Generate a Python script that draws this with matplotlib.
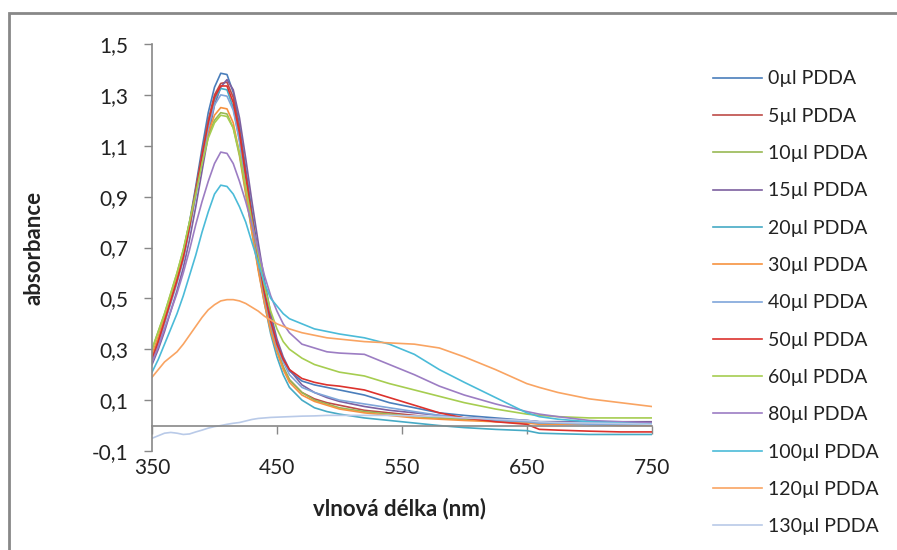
import matplotlib
matplotlib.use("Agg")
import matplotlib.pyplot as plt
from matplotlib.patches import Rectangle
from matplotlib.ticker import FuncFormatter

wavelength = [350, 355, 360, 365, 370, 375, 380, 385, 390, 395, 400, 405, 410, 415, 420,
              425, 430, 435, 440, 445, 450, 455, 460, 470, 480, 490, 500, 520, 540, 560,
              580, 600, 625, 650, 660, 675, 700, 725, 750]

labels = ["0µl PDDA", "5µl PDDA", "10µl PDDA", "15µl PDDA", "20µl PDDA", "30µl PDDA",
          "40µl PDDA", "50µl PDDA", "60µl PDDA", "80µl PDDA", "100µl PDDA", "120µl PDDA",
          "130µl PDDA"]

colors = ["#4A7EBB", "#BE4B48", "#98B954", "#7D60A0", "#46AAC5", "#F69240",
          "#7FA6DA", "#DC322D", "#A6CD50", "#9C7DC3", "#4BBBD8", "#F9A462", "#B9CAE8"]

s0 = [0.26, 0.33, 0.41, 0.49, 0.58, 0.68, 0.80, 0.94, 1.09, 1.23, 1.33, 1.385, 1.38, 1.31, 1.18,
      1.01, 0.84, 0.68, 0.53, 0.42, 0.33, 0.26, 0.215, 0.175, 0.16, 0.15, 0.14, 0.12, 0.09, 0.07,
      0.05, 0.04, 0.03, 0.02, 0.015, 0.015, 0.01, 0.01, 0.01]
s5 = [0.27, 0.34, 0.42, 0.50, 0.58, 0.67, 0.79, 0.93, 1.07, 1.20, 1.30, 1.345, 1.35, 1.29, 1.16,
      0.99, 0.82, 0.66, 0.51, 0.39, 0.30, 0.23, 0.18, 0.13, 0.105, 0.09, 0.08, 0.06, 0.05, 0.04,
      0.03, 0.025, 0.02, 0.015, 0.01, 0.01, 0.005, 0.005, 0.005]
s10 = [0.30, 0.37, 0.44, 0.52, 0.60, 0.69, 0.80, 0.92, 1.04, 1.14, 1.20, 1.23, 1.225, 1.17, 1.06,
       0.91, 0.76, 0.62, 0.49, 0.38, 0.30, 0.23, 0.18, 0.13, 0.10, 0.085, 0.07, 0.055, 0.045, 0.035,
       0.03, 0.025, 0.02, 0.015, 0.01, 0.01, 0.01, 0.01, 0.01]
s15 = [0.24, 0.30, 0.37, 0.45, 0.53, 0.62, 0.73, 0.86, 1.00, 1.14, 1.26, 1.33, 1.36, 1.32, 1.21,
       1.05, 0.88, 0.72, 0.57, 0.44, 0.34, 0.27, 0.22, 0.16, 0.13, 0.11, 0.095, 0.075, 0.06, 0.05,
       0.04, 0.03, 0.025, 0.02, 0.015, 0.015, 0.015, 0.015, 0.015]
s20 = [0.26, 0.33, 0.41, 0.49, 0.57, 0.66, 0.78, 0.92, 1.06, 1.19, 1.28, 1.325, 1.32, 1.25, 1.12,
       0.95, 0.78, 0.62, 0.48, 0.36, 0.27, 0.20, 0.15, 0.10, 0.07, 0.055, 0.045, 0.03, 0.02, 0.01,
       0.0, -0.008, -0.015, -0.02, -0.03, -0.032, -0.035, -0.035, -0.035]
s30 = [0.28, 0.35, 0.43, 0.51, 0.59, 0.68, 0.79, 0.91, 1.04, 1.15, 1.22, 1.25, 1.245, 1.19, 1.07,
       0.92, 0.76, 0.61, 0.48, 0.37, 0.29, 0.22, 0.17, 0.12, 0.095, 0.08, 0.065, 0.05, 0.04, 0.03,
       0.025, 0.02, 0.015, 0.01, 0.005, 0.005, 0.005, 0.0, 0.0]
s40 = [0.25, 0.32, 0.40, 0.48, 0.56, 0.65, 0.77, 0.90, 1.04, 1.17, 1.26, 1.30, 1.295, 1.24, 1.12,
       0.96, 0.80, 0.65, 0.51, 0.40, 0.31, 0.25, 0.20, 0.15, 0.13, 0.115, 0.10, 0.085, 0.07, 0.055,
       0.04, 0.03, 0.02, 0.015, 0.01, 0.01, 0.005, 0.005, 0.005]
s50 = [0.26, 0.33, 0.41, 0.49, 0.57, 0.66, 0.78, 0.92, 1.06, 1.19, 1.29, 1.335, 1.335, 1.27, 1.15,
       0.98, 0.81, 0.66, 0.52, 0.41, 0.32, 0.26, 0.22, 0.185, 0.17, 0.16, 0.155, 0.14, 0.11, 0.08,
       0.05, 0.03, 0.015, 0.005, -0.015, -0.018, -0.022, -0.025, -0.025]
s60 = [0.30, 0.37, 0.44, 0.52, 0.60, 0.69, 0.80, 0.91, 1.03, 1.13, 1.19, 1.22, 1.215, 1.17, 1.07,
       0.94, 0.80, 0.67, 0.55, 0.45, 0.38, 0.33, 0.30, 0.265, 0.24, 0.225, 0.21, 0.195, 0.165, 0.14,
       0.115, 0.09, 0.065, 0.045, 0.04, 0.035, 0.03, 0.03, 0.03]
s80 = [0.25, 0.31, 0.38, 0.45, 0.52, 0.60, 0.69, 0.79, 0.88, 0.96, 1.03, 1.075, 1.07, 1.03, 0.96,
       0.88, 0.79, 0.69, 0.59, 0.51, 0.45, 0.40, 0.365, 0.32, 0.305, 0.29, 0.285, 0.28, 0.24, 0.20,
       0.155, 0.12, 0.085, 0.055, 0.045, 0.035, 0.02, 0.015, 0.01]
s100 = [0.21, 0.26, 0.32, 0.38, 0.44, 0.51, 0.59, 0.67, 0.76, 0.84, 0.91, 0.945, 0.94, 0.91, 0.86,
        0.80, 0.72, 0.64, 0.56, 0.50, 0.47, 0.44, 0.42, 0.40, 0.38, 0.37, 0.36, 0.345, 0.32, 0.28,
        0.22, 0.17, 0.11, 0.05, 0.035, 0.025, 0.015, 0.01, 0.005]
s120 = [0.19, 0.22, 0.25, 0.27, 0.29, 0.32, 0.355, 0.39, 0.425, 0.455, 0.475, 0.49, 0.495, 0.495, 0.49,
        0.48, 0.465, 0.45, 0.43, 0.415, 0.40, 0.39, 0.38, 0.365, 0.355, 0.345, 0.34, 0.33, 0.325, 0.32,
        0.305, 0.27, 0.22, 0.165, 0.15, 0.13, 0.105, 0.09, 0.075]
s130 = [-0.05, -0.04, -0.03, -0.027, -0.03, -0.035, -0.033, -0.025, -0.018, -0.01, -0.004, 0.0, 0.005, 0.009, 0.012,
        0.018, 0.024, 0.028, 0.03, 0.032, 0.033, 0.034, 0.035, 0.037, 0.038, 0.04, 0.04, 0.04, 0.04, 0.038,
        0.035, 0.03, 0.025, 0.02, 0.015, 0.012, 0.01, 0.008, 0.005]

series = [s0, s5, s10, s15, s20, s30, s40, s50, s60, s80, s100, s120, s130]

y_ticks = [-0.1, 0.1, 0.3, 0.5, 0.7, 0.9, 1.1, 1.3, 1.5]
x_ticks = [350, 450, 550, 650, 750]

plt.rcParams['font.family'] = ['Lato', 'DejaVu Sans']

fig = plt.figure(figsize=(8.97, 5.5), dpi=100)
ax = fig.add_axes([0.1695, 0.18, 0.557, 0.74])

grey = "#888888"
for vals, lab, col in zip(series, labels, colors):
    ax.plot(wavelength, vals, color=col, lw=1.2, label=lab)

ax.set_xlim(350, 750)
ax.set_ylim(-0.1, 1.5)
ax.set_yticks(y_ticks)
ax.yaxis.set_major_formatter(FuncFormatter(lambda v, p: f"{v:.1f}".replace(".", ",")))
ax.tick_params(axis='y', direction='out', length=6, color=grey, width=1, labelsize=15,
               pad=11, labelcolor="#222222")

for s in ['top', 'right']:
    ax.spines[s].set_visible(False)
ax.spines['left'].set_color(grey)
ax.spines['left'].set_linewidth(1.2)
ax.spines['bottom'].set_position(('data', 0))
ax.spines['bottom'].set_color(grey)
ax.spines['bottom'].set_linewidth(1.2)
ax.set_xticks(x_ticks)
ax.tick_params(axis='x', direction='out', length=6, color=grey, width=1, labelbottom=False)

sec = ax.secondary_xaxis('bottom')
sec.set_xticks(x_ticks)
sec.tick_params(axis='x', length=0, labelsize=15, pad=5, labelcolor="#222222")
sec.spines['bottom'].set_visible(False)

ax.set_xlabel("vlnová délka (nm)", fontsize=16, fontweight='bold', color="#222222")
ax.xaxis.set_label_coords(0.496, -0.115)
ax.set_ylabel("absorbance", fontsize=16, fontweight='bold', color="#222222")
ax.yaxis.set_label_coords(-0.215, 0.5)

leg = fig.legend(loc='upper left', bbox_to_anchor=(0.795, 0.872), frameon=False,
                 fontsize=14, handlelength=2.5, handletextpad=0.3, labelspacing=1.045,
                 borderaxespad=0, borderpad=0)
for t in leg.get_texts():
    t.set_color("#222222")

fig.patches.append(Rectangle((0.010, -0.05), 1.2, 0.976 + 0.05, transform=fig.transFigure,
                             fill=False, edgecolor=grey, lw=2))

fig.savefig("out.png", dpi=100)
